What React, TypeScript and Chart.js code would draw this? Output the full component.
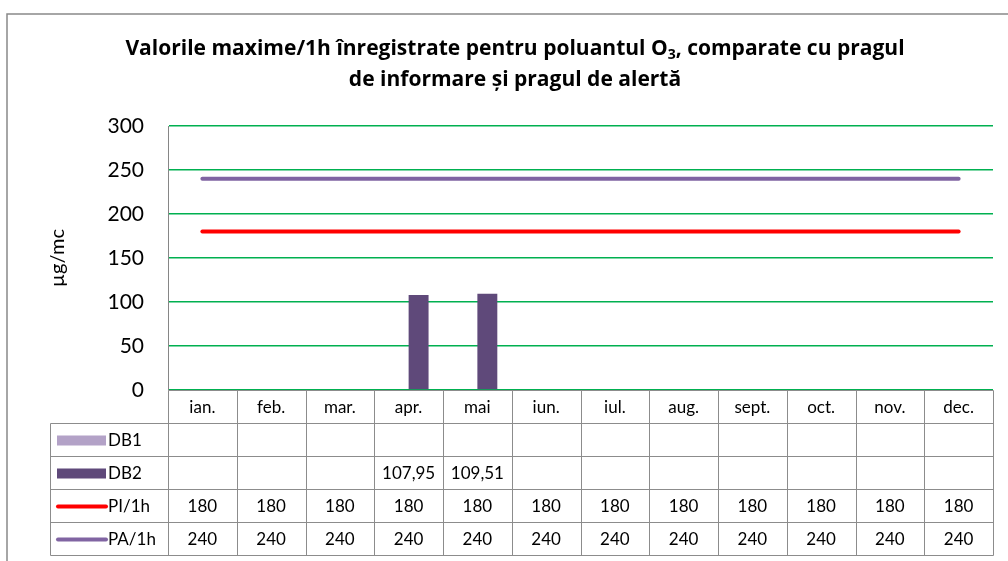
import React, { useEffect, useRef } from "react";
import { Chart, registerables } from "chart.js";

Chart.register(...registerables);

const categories = ["ian.", "feb.", "mar.", "apr.", "mai", "iun.", "iul.", "aug.", "sept.", "oct.", "nov.", "dec."];
const db1: (number | null)[] = [null, null, null, null, null, null, null, null, null, null, null, null];
const db2: (number | null)[] = [null, null, null, 107.95, 109.51, null, null, null, null, null, null, null];
const pi: number[] = [180, 180, 180, 180, 180, 180, 180, 180, 180, 180, 180, 180];
const pa: number[] = [240, 240, 240, 240, 240, 240, 240, 240, 240, 240, 240, 240];
const seriesNames = ["DB1", "DB2", "PI/1h", "PA/1h"];
const seriesColors = ["#B3A2C7", "#5F497A", "#FF0000", "#8064A2"];
const yMin = 0;
const yMax = 300;
const yStep = 50;
const yTitle = "µg/mc";
const titleLine1 = ["Valorile maxime/1h înregistrate pentru poluantul O", "3", ", comparate cu pragul"];
const titleLine2 = "de informare și pragul de alertă";

const FONT = "Lato, 'Open Sans', sans-serif";
const TITLE_FONT = "'Open Sans', Lato, sans-serif";

function fmt(v: number | null): string {
  if (v === null || v === undefined) return "";
  if (Number.isInteger(v)) return String(v);
  return v.toFixed(2).replace(".", ",");
}

const customPlugin = {
  id: "customDraw",
  beforeDraw(chart: any) {
    const ctx = chart.ctx;
    ctx.save();
    ctx.fillStyle = "#ffffff";
    ctx.fillRect(0, 0, chart.width, chart.height);
    ctx.restore();
  },
  afterDraw(chart: any) {
    const ctx: CanvasRenderingContext2D = chart.ctx;
    const { chartArea } = chart;
    const xs = chart.scales.x;
    const left = chartArea.left;
    const right = chartArea.right;
    const n = categories.length;
    const w = (right - left) / n;
    const bounds: number[] = [];
    for (let i = 0; i < n; i++) bounds.push(xs.getPixelForValue(i) - w / 2);
    bounds.push(right);
    const rowH = 33;
    const top = chartArea.bottom;
    const rows = [top, top + rowH, top + 2 * rowH, top + 3 * rowH, top + 4 * rowH, top + 5 * rowH];
    const legendLeft = 50;

    ctx.save();
    // outer frame
    ctx.strokeStyle = "#898989";
    ctx.lineWidth = 1.5;
    ctx.strokeRect(7, 14, 1200, 700);

    // table lines
    ctx.strokeStyle = "#8c8c8c";
    ctx.lineWidth = 1;
    const px = (v: number) => Math.round(v) + 0.5;
    ctx.beginPath();
    ctx.moveTo(px(left), px(rows[0]));
    ctx.lineTo(px(right), px(rows[0]));
    for (let r = 1; r < rows.length; r++) {
      ctx.moveTo(px(legendLeft), px(rows[r]));
      ctx.lineTo(px(right), px(rows[r]));
    }
    for (let i = 0; i <= n; i++) {
      ctx.moveTo(px(bounds[i]), px(rows[0]));
      ctx.lineTo(px(bounds[i]), px(rows[5]));
    }
    ctx.moveTo(px(legendLeft), px(rows[1]));
    ctx.lineTo(px(legendLeft), px(rows[5]));
    ctx.stroke();

    // month labels
    ctx.fillStyle = "#000000";
    ctx.font = `17px ${FONT}`;
    ctx.textAlign = "center";
    ctx.textBaseline = "middle";
    for (let i = 0; i < n; i++) {
      ctx.fillText(categories[i], (bounds[i] + bounds[i + 1]) / 2, (rows[0] + rows[1]) / 2 + 1);
    }
    const seriesData = [db1, db2, pi, pa];
    for (let s = 0; s < seriesData.length; s++) {
      const yc = (rows[s + 1] + rows[s + 2]) / 2 + 1;
      for (let i = 0; i < n; i++) {
        ctx.fillText(fmt(seriesData[s][i]), (bounds[i] + bounds[i + 1]) / 2, yc);
      }
      // legend key
      if (s < 2) {
        ctx.fillStyle = seriesColors[s];
        ctx.fillRect(57, yc - 5, 49, 10);
      } else {
        ctx.strokeStyle = seriesColors[s];
        ctx.lineWidth = 4;
        ctx.lineCap = "round";
        ctx.beginPath();
        ctx.moveTo(58, yc);
        ctx.lineTo(106, yc);
        ctx.stroke();
      }
      ctx.fillStyle = "#000000";
      ctx.textAlign = "left";
      ctx.fillText(seriesNames[s], 108, yc);
      ctx.textAlign = "center";
    }

    // y axis title
    ctx.save();
    ctx.translate(58, (chartArea.top + chartArea.bottom) / 2);
    ctx.rotate(-Math.PI / 2);
    ctx.font = `20px ${FONT}`;
    ctx.textAlign = "center";
    ctx.textBaseline = "middle";
    ctx.fillText(yTitle, 0, 0);
    ctx.restore();

    // title (font size fitted so line 1 spans the same width as the reference)
    const cx = 515;
    const targetW = 780;
    const measureLine = (size: number) => {
      ctx.font = `bold ${size}px ${TITLE_FONT}`;
      const a = ctx.measureText(titleLine1[0]).width;
      const c = ctx.measureText(titleLine1[2]).width;
      ctx.font = `bold ${Math.round(size * 0.68)}px ${TITLE_FONT}`;
      const b = ctx.measureText(titleLine1[1]).width;
      return [a, b, c];
    };
    const base = measureLine(20);
    const size = Math.min(22, Math.max(16, (20 * targetW) / (base[0] + base[1] + base[2])));
    const [w0, w1, w2] = measureLine(size);
    const bigFont = `bold ${size}px ${TITLE_FONT}`;
    const subFont = `bold ${Math.round(size * 0.68)}px ${TITLE_FONT}`;
    ctx.textAlign = "left";
    ctx.textBaseline = "middle";
    const total = w0 + w1 + w2;
    let xPos = cx - total / 2;
    const y1 = 49;
    ctx.font = bigFont;
    ctx.fillText(titleLine1[0], xPos, y1);
    xPos += w0;
    ctx.font = subFont;
    ctx.fillText(titleLine1[1], xPos, y1 + 6);
    xPos += w1;
    ctx.font = bigFont;
    ctx.fillText(titleLine1[2], xPos, y1);
    ctx.textAlign = "center";
    ctx.fillText(titleLine2, cx, 80);
    ctx.restore();
  },
};

export default function App() {
  const ref = useRef<HTMLCanvasElement | null>(null);
  useEffect(() => {
    if (!ref.current) return;
    const chart = new Chart(ref.current, {
      type: "bar",
      data: {
        labels: categories,
        datasets: [
          {
            type: "bar",
            label: seriesNames[0],
            data: db1,
            backgroundColor: seriesColors[0],
            categoryPercentage: 0.58,
            barPercentage: 1,
            order: 2,
          },
          {
            type: "bar",
            label: seriesNames[1],
            data: db2,
            backgroundColor: seriesColors[1],
            categoryPercentage: 0.58,
            barPercentage: 1,
            order: 2,
          },
          {
            type: "line",
            label: seriesNames[2],
            data: pi,
            borderColor: seriesColors[2],
            backgroundColor: seriesColors[2],
            borderWidth: 4,
            borderCapStyle: "round",
            pointRadius: 0,
            order: 1,
          } as any,
          {
            type: "line",
            label: seriesNames[3],
            data: pa,
            borderColor: seriesColors[3],
            backgroundColor: seriesColors[3],
            borderWidth: 4,
            borderCapStyle: "round",
            pointRadius: 0,
            order: 1,
          } as any,
        ],
      },
      options: {
        responsive: false,
        animation: false,
        devicePixelRatio: 1,
        layout: { padding: { left: 0, right: 15, top: 126, bottom: 171 } },
        plugins: {
          legend: { display: false },
          title: { display: false },
          tooltip: { enabled: false },
        },
        scales: {
          x: {
            display: false,
            offset: true,
          },
          y: {
            min: yMin,
            max: yMax,
            ticks: {
              stepSize: yStep,
              padding: 24,
              color: "#000000",
              font: { family: FONT, size: 21 },
            },
            grid: {
              color: "#00B050",
              lineWidth: 1.5,
              drawTicks: false,
            },
            border: { color: "#868686", width: 1 },
            afterFit: (scale: any) => {
              scale.width = 168;
            },
          },
        },
      },
      plugins: [customPlugin],
    });
    return () => chart.destroy();
  }, []);
  return (
    <div style={{ position: "absolute", left: 0, top: 0, width: 1008, height: 561, background: "#fff" }}>
      <canvas ref={ref} width={1008} height={561} style={{ display: "block", width: 1008, height: 561 }} />
    </div>
  );
}
